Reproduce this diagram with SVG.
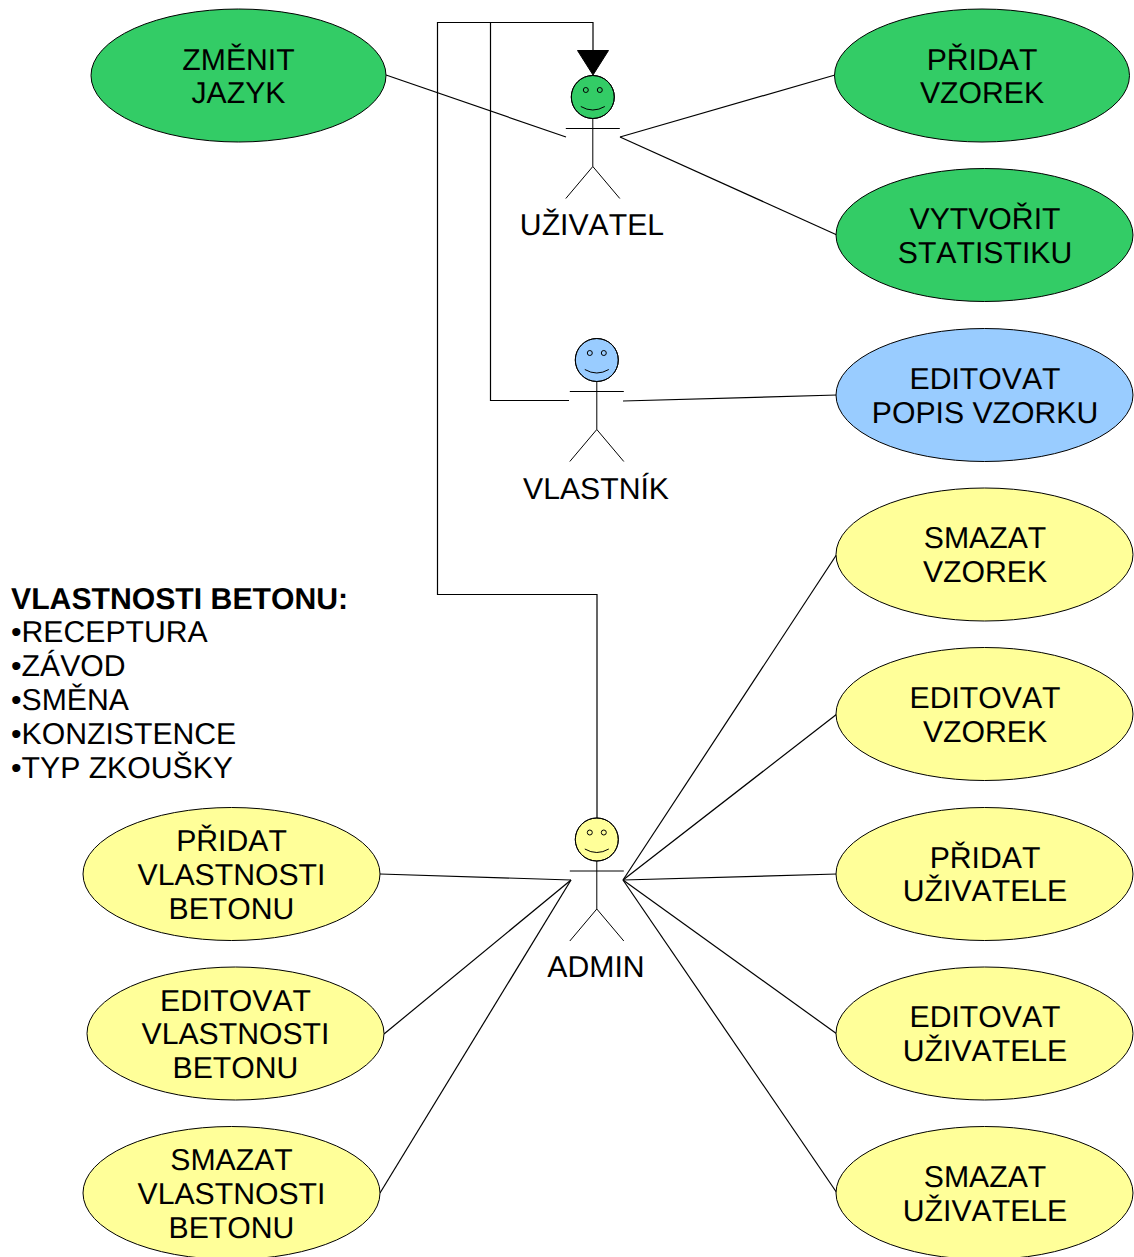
<svg xmlns="http://www.w3.org/2000/svg" width="1134" height="1257" viewBox="0 0 1134 1257">
<style>
text{font-family:"Liberation Sans",Arial,sans-serif;font-size:30.2px;fill:#000;text-anchor:middle;text-rendering:geometricPrecision;font-kerning:none}
.l{text-anchor:start}
.b{font-weight:bold}
ellipse,circle{stroke:#000;stroke-width:1}
.g{fill:#33cc66}.c{fill:#99ccff}.y{fill:#ffff99}
.e{fill:none}
path{fill:none;stroke:#000;stroke-width:1.2}
.ar{fill:#000;stroke:#000;stroke-width:1}
.a{stroke-width:1}
</style>
<defs>
<g id="actor">
<circle class="e" cx="0" cy="21.500" r="21.500"/>
<circle class="e" cx="-7" cy="14.500" r="2.500"/>
<circle class="e" cx="7" cy="14.500" r="2.500"/>
<path class="a" d="M-12 31Q0 38 12 31M0 43V91M-27 53H27M0 91L-27 123M0 91L27 123"/>
</g>
</defs>
<g id="connectors">
<path d="M386 75L566 137"/>
<path d="M620 137L835 75"/>
<path d="M620 137L837 235"/>
<path d="M623 401L837 395"/>
<path d="M569 400.500H490.500V22.500"/>
<path d="M597 818V594.500H437.500V22.500H593V51"/>
<path class="ar" d="M577.500 50.500H608.500L593 75Z"/>
<path d="M623 880L837 554"/>
<path d="M623 880L837 714"/>
<path d="M623 880L837 874"/>
<path d="M623 880L837 1034"/>
<path d="M623 880L837 1193"/>
<path d="M571 880L380 874"/>
<path d="M571 880L384 1034"/>
<path d="M571 880L380 1193"/>
</g>
<g id="uzivatel"><circle class="g" cx="592.800" cy="97" r="21.500"/><use href="#actor" x="592.800" y="75.500"/><text x="592" y="235">UŽIVATEL</text></g>
<g id="vlastnik"><circle class="c" cx="596.800" cy="360" r="21.500"/><use href="#actor" x="596.800" y="338.500"/><text x="596" y="498.500">VLASTNÍK</text></g>
<g id="admin"><circle class="y" cx="596.800" cy="839.500" r="21.500"/><use href="#actor" x="596.800" y="818"/><text x="596" y="977">ADMIN</text></g>
<g id="zmenit-jazyk"><ellipse class="g" cx="238.500" cy="75.500" rx="147.500" ry="66.500"/><text x="238.500" y="69.500">ZMĚNIT</text><text x="238.500" y="103">JAZYK</text></g>
<g id="pridat-vzorek"><ellipse class="g" cx="982" cy="75.500" rx="147.500" ry="66.500"/><text x="982" y="69.500">PŘIDAT</text><text x="982" y="103">VZOREK</text></g>
<g id="vytvorit-statistiku"><ellipse class="g" cx="984.500" cy="235" rx="148.500" ry="66.500"/><text x="985" y="228.500">VYTVOŘIT</text><text x="985" y="262.500">STATISTIKU</text></g>
<g id="editovat-popis"><ellipse class="c" cx="984.500" cy="395" rx="148.500" ry="66.500"/><text x="985" y="388.500">EDITOVAT</text><text x="985" y="422.500">POPIS VZORKU</text></g>
<g id="smazat-vzorek"><ellipse class="y" cx="984.500" cy="554.500" rx="148.500" ry="66.500"/><text x="985" y="548">SMAZAT</text><text x="985" y="582">VZOREK</text></g>
<g id="editovat-vzorek"><ellipse class="y" cx="984.500" cy="714" rx="148.500" ry="66.500"/><text x="985" y="707.500">EDITOVAT</text><text x="985" y="741.500">VZOREK</text></g>
<g id="pridat-uzivatele"><ellipse class="y" cx="984.500" cy="874" rx="148.500" ry="66.500"/><text x="985" y="867.500">PŘIDAT</text><text x="985" y="901">UŽIVATELE</text></g>
<g id="editovat-uzivatele"><ellipse class="y" cx="984.500" cy="1033.500" rx="148.500" ry="66.500"/><text x="985" y="1027">EDITOVAT</text><text x="985" y="1061">UŽIVATELE</text></g>
<g id="smazat-uzivatele"><ellipse class="y" cx="984.500" cy="1193" rx="148.500" ry="66.500"/><text x="985" y="1187">SMAZAT</text><text x="985" y="1220.500">UŽIVATELE</text></g>
<g id="pridat-vlastnosti"><ellipse class="y" cx="231.500" cy="874" rx="148.500" ry="66.500"/><text x="231.500" y="851">PŘIDAT</text><text x="231.500" y="884.500">VLASTNOSTI</text><text x="231.500" y="918.500">BETONU</text></g>
<g id="editovat-vlastnosti"><ellipse class="y" cx="235.500" cy="1033.500" rx="148.500" ry="66.500"/><text x="235.500" y="1011">EDITOVAT</text><text x="235.500" y="1044">VLASTNOSTI</text><text x="235.500" y="1078">BETONU</text></g>
<g id="smazat-vlastnosti"><ellipse class="y" cx="231.500" cy="1193" rx="148.500" ry="66.500"/><text x="231.500" y="1170">SMAZAT</text><text x="231.500" y="1204">VLASTNOSTI</text><text x="231.500" y="1238">BETONU</text></g>
<g id="vlastnosti-betonu">
<text class="l b" x="11" y="608.500">VLASTNOSTI BETONU:</text>
<text class="l" x="11" y="642">•RECEPTURA</text>
<text class="l" x="11" y="676">•ZÁVOD</text>
<text class="l" x="11" y="710">•SMĚNA</text>
<text class="l" x="11" y="744">•KONZISTENCE</text>
<text class="l" x="11" y="778">•TYP ZKOUŠKY</text>
</g>
</svg>
